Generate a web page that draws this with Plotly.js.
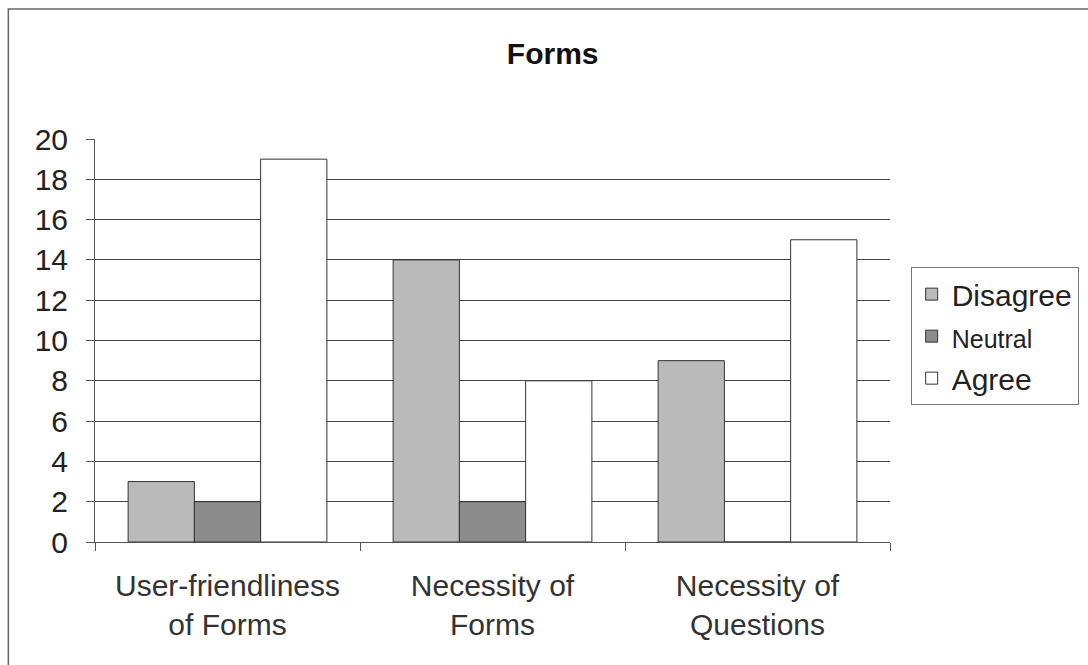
<!DOCTYPE html>
<html>
<head>
<meta charset="utf-8">
<script src="https://cdn.plot.ly/plotly-3.0.1.min.js"></script>
<style>html,body{margin:0;padding:0;background:#fff;}#chart{width:1088px;height:665px;}</style>
</head>
<body>
<div id="chart"></div>
<script>
const categories = ["User-friendliness<br>of Forms", "Necessity of<br>Forms", "Necessity of<br>Questions"];
const disagree = [3, 14, 9];
const neutral = [2, 2, 0];
const agree = [19, 8, 15];
const seriesNames = ["Disagree", "<span style=\"font-size:25px\">Neutral</span>", "Agree"];

const mk = (name, y, color) => ({
  type: "bar", name: name, x: categories, y: y,
  marker: {color: color, line: {color: "#333", width: 1}}
});
const data = [
  mk(seriesNames[0], disagree, "#bababa"),
  mk(seriesNames[1], neutral, "#8c8c8c"),
  mk(seriesNames[2], agree, "#ffffff")
];
const layout = {
  width: 1088, height: 665,
  margin: {l: 95, r: 198, t: 139, b: 123, autoexpand: false},
  paper_bgcolor: "#fff", plot_bgcolor: "#fff",
  font: {family: "Liberation Sans, Arial, sans-serif", color: "#222"},
  title: {text: "<b>Forms</b>", font: {size: 30, color: "#111"}, x: 0.508, xref: "container", xanchor: "center", y: 0.92, yanchor: "middle"},
  barmode: "group", bargap: 0.25, bargroupgap: 0,
  xaxis: {
    showline: true, linecolor: "#555", linewidth: 1,
    ticks: "outside", tickson: "boundaries", ticklen: 8, tickcolor: "#555",
    tickfont: {size: 30, color: "#333"}, showgrid: false, ticklabelstandoff: 17
  },
  yaxis: {
    range: [0, 20], dtick: 2, showline: true, linecolor: "#555", linewidth: 1,
    ticks: "outside", ticklen: 8, tickcolor: "#555",
    gridcolor: "#444", gridwidth: 1, tickfont: {size: 30, color: "#222"},
    zeroline: false, ticklabelstandoff: 12
  },
  showlegend: true,
  legend: {
    x: 1.026, y: 0.682, xanchor: "left", yanchor: "top",
    bordercolor: "#777", borderwidth: 1, font: {size: 30, color: "#222"},
    tracegroupgap: 0, itemwidth: 30
  },
  shapes: [{
    type: "rect", xref: "paper", yref: "paper",
    x0: -0.109, x1: 1.255, y0: -0.33, y1: 1.3226,
    line: {color: "#666", width: 1.5}, fillcolor: "rgba(0,0,0,0)"
  }]
};
Plotly.newPlot("chart", data, layout, {displayModeBar: false});
</script>
</body>
</html>
